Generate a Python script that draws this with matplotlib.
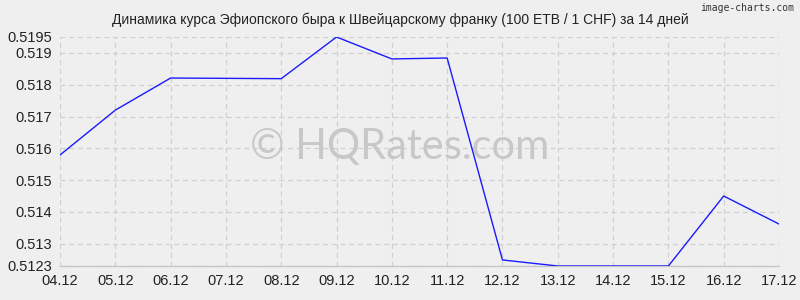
import matplotlib.pyplot as plt

dates = ['04.12', '05.12', '06.12', '07.12', '08.12', '09.12', '10.12',
         '11.12', '12.12', '13.12', '14.12', '15.12', '16.12', '17.12']
rates = [0.51579, 0.51720, 0.51821, 0.51820, 0.51819, 0.51950, 0.51881,
         0.51884, 0.51249, 0.51230, 0.51230, 0.51230, 0.51450, 0.51362]
yticks = [0.5123, 0.513, 0.514, 0.515, 0.516, 0.517, 0.518, 0.519, 0.5195]
ylabels = ['0.5123', '0.513', '0.514', '0.515', '0.516', '0.517', '0.518', '0.519', '0.5195']

plt.rcParams['font.family'] = ['Liberation Sans', 'DejaVu Sans']

bg = '#efefef'
fig = plt.figure(figsize=(8, 3), dpi=100, facecolor=bg)
ax = fig.add_axes([60 / 800, 34 / 300, 719 / 800, 229 / 300], facecolor=bg)

x = list(range(len(dates)))
ax.plot(x, rates, color='#1a1aff', linewidth=1.0, zorder=3)

ax.set_xlim(0, len(dates) - 1)
ax.set_ylim(0.5123, 0.5195)
ax.set_xticks(x)
ax.set_xticklabels(dates, fontsize=10.5, color='#222222')
ax.set_yticks(yticks)
ax.set_yticklabels(ylabels, fontsize=10.5, color='#222222')
ax.tick_params(length=0, pad=6)

ax.grid(True, color='#d0d0d0', linestyle=(0, (4, 3)), linewidth=0.9)
for s in ['top', 'right', 'left']:
    ax.spines[s].set_visible(False)
ax.spines['bottom'].set_color('#c4c4c4')
ax.spines['bottom'].set_linewidth(0.9)

fig.text(0.5, 0.935, 'Динамика курса Эфиопского быра к Швейцарскому франку (100 ETB / 1 CHF) за 14 дней',
         ha='center', va='center', fontsize=10, color='#222222')
fig.text(0.993, 0.972, 'image-charts.com', ha='right', va='center', fontsize=7,
         color='#333333', family='DejaVu Sans Mono')
fig.text(0.5, 0.51, '© HQRates.com', ha='center', va='center',
         fontsize=30, color='#c8c8c8', family=['Lato', 'DejaVu Sans'], zorder=1)

fig.savefig('out.png', dpi=100, facecolor=bg)
